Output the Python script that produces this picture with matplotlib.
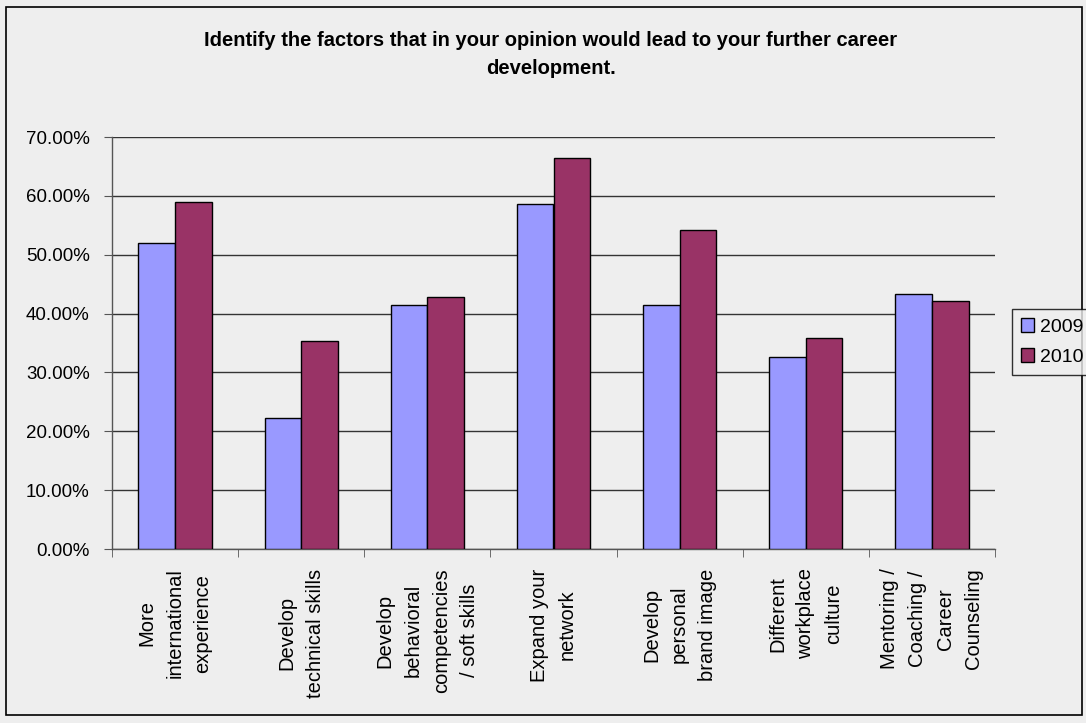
import matplotlib
matplotlib.use('Agg')
import matplotlib.pyplot as plt
import numpy as np
from matplotlib.patches import Rectangle
from matplotlib.ticker import PercentFormatter

plt.rcParams['font.family'] = ['Liberation Sans', 'DejaVu Sans']

categories = [
    "More\ninternational\nexperience",
    "Develop\ntechnical skills",
    "Develop\nbehavioral\ncompetencies\n/ soft skills",
    "Expand your\nnetwork",
    "Develop\npersonal\nbrand image",
    "Different\nworkplace\nculture",
    "Mentoring /\nCoaching /\nCareer\nCounseling",
]
years = ["2009", "2010"]
values_2009 = [52.0, 22.3, 41.5, 58.6, 41.5, 32.7, 43.3]
values_2010 = [58.9, 35.3, 42.8, 66.4, 54.2, 35.8, 42.2]
colors = ['#9999FF', '#993366']

BG = '#EEEEEE'
W, H = 1086, 723
fig = plt.figure(figsize=(W / 100, H / 100), dpi=100, facecolor=BG)

# outer chart border
fig.add_artist(Rectangle((6 / W, 1 - 715 / H), (1082 - 6) / W, (715 - 7) / H,
                         transform=fig.transFigure, fill=False,
                         edgecolor='black', linewidth=1.2))

ax = fig.add_axes([112 / W, 1 - 549 / H, (995 - 112) / W, (549 - 137) / H])
ax.set_facecolor(BG)

x = np.arange(len(categories))
bw = 0.29
ax.bar(x - bw / 2, values_2009, bw, color=colors[0], edgecolor='black',
       linewidth=1.0, label=years[0], zorder=3)
ax.bar(x + bw / 2, values_2010, bw, color=colors[1], edgecolor='black',
       linewidth=1.0, label=years[1], zorder=3)

ax.set_xlim(-0.5, len(categories) - 0.5)
ax.set_ylim(0, 70)
ax.set_yticks(np.arange(0, 71, 10))
ax.yaxis.set_major_formatter(PercentFormatter(decimals=2))
ax.grid(axis='y', color='#333333', linewidth=1.0, zorder=0)
ax.grid(axis='x', visible=False)

for s in ['top', 'right']:
    ax.spines[s].set_visible(False)
for s in ['left', 'bottom']:
    ax.spines[s].set_color('#555555')
    ax.spines[s].set_linewidth(1.0)

ax.tick_params(axis='y', labelsize=13.5, length=6, color='#555555', pad=10)
ax.set_xticks(x)
ax.set_xticklabels(categories, rotation=90, fontsize=14.5, va='top',
                   ha='center', multialignment='center', linespacing=1.6)
ax.tick_params(axis='x', which='major', length=0, pad=14)
ax.set_xticks(np.arange(-0.5, len(categories), 1), minor=True)
ax.tick_params(axis='x', which='minor', length=6, color='#555555')

fig.text(0.507, 1 - 55 / H,
         "Identify the factors that in your opinion would lead to your further career\ndevelopment.",
         ha='center', va='center', fontsize=14.5, fontweight='bold', linespacing=1.6)

leg = fig.legend(loc='center left', bbox_to_anchor=(1012 / W, 1 - 342 / H),
                 fontsize=14, frameon=True, fancybox=False, edgecolor='black',
                 facecolor=BG, handlelength=0.7, handleheight=0.7,
                 handletextpad=0.3, borderpad=0.45, labelspacing=0.65,
                 borderaxespad=0)
leg.get_frame().set_linewidth(1.0)

fig.savefig('out.png', dpi=100, facecolor=BG)
